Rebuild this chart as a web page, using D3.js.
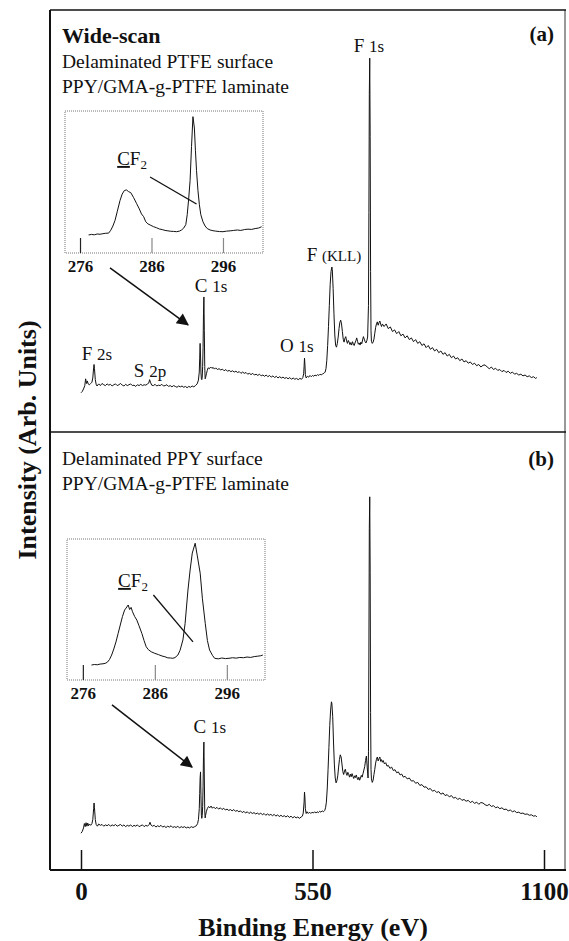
<!DOCTYPE html>
<html>
<head>
<meta charset="utf-8">
<script src="https://cdn.jsdelivr.net/npm/d3@7"></script>
<style>
  html, body { margin: 0; padding: 0; background: #fff; }
  svg { display: block; font-family: "Liberation Serif", "Times New Roman", serif; }
</style>
</head>
<body>
<svg id="chart" width="569" height="941"></svg>
<script>
// ---- Data: XPS wide-scan spectra, [binding energy (eV), intensity (arb.)] ----
const energyTicks = [0, 550, 1100];
const insetTicks = [276, 286, 296];

const wideScanA = [
  [0,9.3],[3,9.6],[6,10.2],[9,11.0],[11,12.6],[13,11.5],[15,12.1],[17,11.4],[20,11.2],[23,11.5],[26,11.8],[28,12.8],
  [30,15.2],[31,16.0],[32,15.0],[34,12.4],[36,11.3],[38,10.9],[42,11.4],[46,11.0],[50,11.5],[54,11.2],[58,11.0],
  [62,11.4],[66,11.1],[70,11.3],[74,10.9],[78,11.2],[82,11.4],[86,11.0],[90,11.2],[94,11.5],[98,11.1],[102,10.9],
  [106,11.3],[110,11.0],[114,11.2],[118,11.4],[122,11.0],[126,11.1],[130,10.8],[134,11.2],[138,11.0],[142,11.3],
  [146,11.0],[150,11.2],[154,11.1],[158,11.4],[161,11.6],[163,12.4],[165,11.8],[168,11.1],[172,11.0],[176,11.3],
  [180,10.9],[184,11.1],[188,11.0],[192,11.3],[196,10.9],[200,11.0],[204,11.2],[208,10.8],[212,11.0],[216,10.7],
  [220,11.0],[224,10.8],[228,10.6],[232,10.9],[236,10.7],[240,10.9],[244,10.6],[248,10.8],[252,10.5],[256,10.8],
  [260,10.6],[264,10.9],[268,10.7],[272,11.0],[276,11.4],[279,12.3],[281,14.2],[282,17.5],[283,21.0],[284,18.0],
  [285,14.0],[286,12.6],[287,12.4],[288,13.0],[289,15.5],[290,20.0],[291,28.0],[292,32.0],[293,24.0],[294,15.5],
  [295,12.6],[296,12.9],[298,13.8],[300,14.6],[302,15.2],[305,15.0],[308,15.4],[311,15.1],[314,15.3],[317,14.9],
  [320,15.2],[324,14.8],[328,15.0],[332,14.7],[336,14.9],[340,14.5],[344,14.8],[348,14.4],[352,14.6],[356,14.3],
  [360,14.5],[364,14.2],[368,14.4],[372,14.1],[376,14.3],[380,13.9],[384,14.2],[388,13.9],[392,14.1],[396,13.7],
  [400,13.9],[404,13.6],[408,13.9],[412,13.5],[416,13.7],[420,13.4],[424,13.7],[428,13.3],[432,13.5],[436,13.2],
  [440,13.5],[444,13.1],[448,13.4],[452,13.0],[456,13.3],[460,12.9],[464,13.2],[468,12.8],[472,13.1],[476,12.8],
  [480,13.0],[484,12.7],[488,12.9],[492,12.6],[496,12.9],[500,12.5],[504,12.8],[508,12.5],[512,12.7],[516,12.4],
  [520,12.7],[524,12.5],[527,12.9],[529,13.8],[530,15.5],[531,17.5],[532,16.0],[533,13.6],[535,12.8],[538,13.2],
  [541,13.0],[544,13.4],[547,13.1],[550,13.4],[553,13.2],[556,13.5],[559,13.3],[562,13.6],[565,13.4],[568,13.7],
  [571,13.5],[574,13.8],[577,13.9],[580,14.2],[582,15.0],[584,17.0],[586,20.5],[588,25.0],[590,30.0],[592,35.0],
  [594,38.0],[596,39.1],[597,38.5],[599,34.0],[601,28.0],[603,23.0],[605,20.5],[607,20.1],[609,21.0],[611,22.5],
  [613,24.5],[615,26.0],[617,26.5],[619,25.6],[621,23.8],[623,22.0],[625,21.3],[627,22.2],[629,22.6],[631,21.6],
  [633,21.0],[635,21.7],[637,21.3],[639,20.7],[641,21.2],[643,20.6],[645,21.4],[647,20.9],[649,20.5],[651,21.1],
  [653,21.6],[655,22.3],[657,21.5],[659,20.8],[661,21.1],[663,20.6],[665,21.3],[667,20.9],[669,21.8],[671,22.6],
  [673,22.0],[675,21.4],[677,21.1],[679,21.6],[681,22.5],[683,30.0],[684,52.0],[685,80.0],[686,88.6],[687,70.0],
  [688,38.0],[689,24.0],[690,21.5],[692,21.0],[694,21.3],[696,22.0],[698,23.4],[700,24.8],[702,25.6],[704,26.1],
  [706,25.3],[708,25.9],[710,26.3],[712,25.5],[714,25.0],[716,25.6],[720,25.0],[725,25.6],[730,24.5],[735,24.9],
  [740,23.8],[745,24.2],[750,23.3],[755,23.8],[760,22.8],[765,23.2],[770,22.3],[775,22.8],[780,21.9],[785,22.3],
  [790,21.4],[795,21.9],[800,21.0],[805,21.4],[810,20.5],[815,20.9],[820,20.0],[825,20.5],[830,19.6],[835,20.0],
  [840,19.2],[845,19.6],[850,18.8],[855,19.2],[860,18.4],[865,18.8],[870,18.0],[875,18.4],[880,17.6],[885,18.0],
  [890,17.3],[895,17.6],[900,16.9],[905,17.3],[910,16.6],[915,16.9],[920,16.3],[925,16.6],[930,16.0],[935,16.3],
  [940,15.7],[945,16.0],[950,15.4],[955,15.8],[960,15.9],[965,15.4],[970,15.0],[975,15.4],[980,14.8],[985,15.1],
  [990,14.6],[995,14.8],[1000,14.3],[1005,14.6],[1010,14.1],[1015,14.4],[1020,13.9],[1025,14.2],[1030,13.7],
  [1035,13.9],[1040,13.5],[1045,13.7],[1050,13.3],[1055,13.5],[1060,13.1],[1065,13.3],[1070,12.9],[1075,13.1],
  [1080,12.7],[1083,12.9]
];

const wideScanB = [
  [0,8.4],[3,8.8],[6,9.6],[8,10.6],[10,9.9],[12,10.8],[14,10.0],[16,10.7],[18,10.1],[20,10.5],[23,10.2],[26,10.6],
  [28,11.5],[30,14.0],[31,15.3],[32,14.2],[34,11.5],[36,10.4],[39,10.0],[42,10.5],[46,10.2],[50,10.4],[54,10.0],
  [58,10.3],[62,10.1],[66,10.4],[70,10.0],[74,10.3],[78,10.1],[82,10.4],[86,10.0],[90,10.2],[94,10.4],[98,10.0],
  [102,10.3],[106,9.9],[110,10.2],[114,10.0],[118,10.3],[122,9.9],[126,10.2],[130,10.0],[134,10.3],[138,9.9],
  [142,10.1],[146,10.3],[150,9.9],[154,10.2],[158,10.0],[162,10.4],[164,10.9],[166,10.3],[170,10.0],[174,10.2],
  [178,9.8],[182,10.1],[186,9.9],[190,10.2],[194,9.8],[198,10.0],[202,9.7],[206,10.0],[210,9.8],[214,10.1],
  [218,9.7],[222,9.9],[226,9.7],[230,10.0],[234,9.6],[238,9.9],[242,9.7],[246,9.9],[250,9.6],[254,9.8],[258,9.6],
  [262,9.9],[266,9.7],[270,9.9],[274,10.1],[277,10.6],[279,11.5],[281,14.0],[282,17.5],[283,21.0],[284,22.4],
  [285,17.0],[286,12.5],[287,11.8],[288,12.4],[289,14.5],[290,19.0],[291,26.0],[292,29.2],[293,21.0],[294,13.5],
  [295,11.9],[296,12.5],[298,13.4],[300,14.0],[303,14.5],[306,14.2],[309,14.6],[312,14.1],[315,14.4],[319,14.0],
  [323,14.3],[327,13.9],[331,14.2],[335,13.8],[339,14.1],[343,13.7],[347,13.9],[351,13.6],[355,13.8],[359,13.5],
  [363,13.8],[367,13.4],[371,13.6],[375,13.3],[379,13.5],[383,13.1],[387,13.4],[391,13.0],[395,13.3],[399,12.9],
  [403,13.2],[407,12.9],[411,13.1],[415,12.8],[419,13.0],[423,12.7],[427,13.0],[431,12.6],[435,12.9],[439,12.5],
  [443,12.8],[447,12.5],[451,12.7],[455,12.4],[459,12.7],[463,12.3],[467,12.6],[471,12.2],[475,12.5],[479,12.2],
  [483,12.4],[487,12.1],[491,12.4],[495,12.0],[499,12.3],[503,11.9],[507,12.2],[511,11.9],[515,12.1],[519,11.8],
  [523,12.1],[526,12.3],[528,13.0],[530,15.5],[531,17.8],[532,16.5],[533,14.0],[535,12.9],[537,13.3],[540,12.9],
  [543,13.2],[546,12.9],[549,13.2],[552,13.0],[555,13.3],[558,13.0],[561,13.3],[564,13.1],[567,13.4],[570,13.2],
  [573,13.5],[576,13.3],[579,13.6],[581,14.2],[583,15.5],[585,18.5],[587,23.0],[589,28.0],[591,33.0],[593,36.5],
  [595,38.4],[596,38.0],[598,35.0],[600,29.0],[602,24.0],[604,21.0],[606,19.9],[608,20.4],[610,21.5],[612,23.5],
  [614,25.2],[616,26.3],[618,25.8],[620,24.2],[622,22.5],[624,21.8],[626,22.6],[628,23.0],[630,22.1],[632,21.6],
  [634,22.3],[636,21.8],[638,21.2],[640,21.9],[642,21.3],[644,22.0],[646,21.4],[648,20.9],[650,21.5],[652,21.1],
  [654,21.7],[656,21.0],[658,20.6],[660,21.2],[662,20.5],[664,21.0],[666,21.6],[668,21.2],[670,22.0],[672,22.8],
  [674,23.6],[676,25.0],[678,26.0],[680,23.5],[682,21.0],[683,27.0],[684,50.0],[685,78.0],[686,85.2],[687,68.0],
  [688,36.0],[689,23.0],[690,20.8],[692,20.0],[694,20.5],[696,21.8],[698,23.0],[700,24.4],[702,25.3],[704,25.8],
  [706,24.9],[708,25.4],[710,25.8],[712,24.8],[714,25.2],[716,24.6],[718,25.0],[721,24.2],[724,24.5],[727,23.7],
  [730,23.9],[734,23.2],[738,23.5],[742,22.7],[746,22.9],[750,22.2],[754,22.4],[758,21.7],[762,21.9],[766,21.2],
  [770,21.4],[775,20.8],[780,21.0],[785,20.3],[790,20.4],[795,19.8],[800,20.0],[805,19.3],[810,19.5],[815,18.9],
  [820,19.0],[825,18.4],[830,18.6],[835,18.0],[840,18.2],[845,17.7],[850,17.9],[855,17.3],[860,17.6],[865,17.0],
  [870,17.2],[875,16.7],[880,17.0],[885,16.4],[890,16.6],[895,16.1],[900,16.4],[905,15.9],[910,16.1],[915,15.7],
  [920,15.9],[925,15.4],[930,15.7],[935,15.2],[940,15.5],[945,15.0],[950,15.4],[955,15.3],[960,14.9],[965,14.7],
  [970,15.0],[975,14.5],[980,14.7],[985,14.2],[990,14.4],[995,14.0],[1000,14.2],[1005,13.8],[1010,13.9],
  [1015,13.5],[1020,13.7],[1025,13.3],[1030,13.5],[1035,13.1],[1040,13.2],[1045,12.9],[1050,13.0],[1055,12.7],
  [1060,12.8],[1065,12.5],[1070,12.6],[1075,12.3],[1080,12.4],[1083,12.1]
];

// C 1s core-level spectra (insets)
const coreC1sA = [
  [277.2,12.7],[277.6,13.1],[278.0,12.8],[278.4,13.4],[278.8,13.2],[279.2,13.6],[279.6,13.9],[280.0,14.0],
  [280.3,16],[280.6,19],[280.9,23],[281.2,29],[281.6,37],[281.9,41.5],[282.2,44],[282.5,44.4],[282.8,43.2],
  [283.1,42.5],[283.5,39],[283.9,35],[284.3,31],[284.6,27.5],[284.9,25.6],[285.2,22],[285.5,20.5],[285.9,19.5],
  [286.3,18.5],[286.7,17.8],[287.1,16.9],[287.5,16.5],[287.9,15.9],[288.3,15.6],[288.7,15.3],[289.1,15.2],
  [289.5,15.0],[289.9,15.4],[290.2,16.2],[290.5,17.5],[290.8,20],[291.0,27],[291.2,38],[291.4,51],[291.6,75],
  [291.8,96],[292.0,88],[292.15,72],[292.3,58],[292.5,44],[292.7,34],[292.9,27],[293.2,22],[293.5,19],[293.8,17.2],
  [294.2,16.2],[294.6,15.7],[295.0,15.4],[295.5,15.1],[296.0,15.0],[296.5,15.4],[297.0,15.6],[297.5,15.9],
  [298.0,16.2],[298.5,15.9],[299.0,16.5],[299.5,16.8],[300.0,16.6],[300.5,17.2],[301.0,17.6],[301.4,18.5]
];
const coreC1sB = [
  [277.2,10.6],[277.6,11.0],[278.0,10.8],[278.4,11.3],[278.8,11.5],[279.1,11.8],[279.4,12.6],[279.7,14.5],
  [280.0,17.7],[280.3,22],[280.6,27],[280.9,33],[281.2,39],[281.5,45],[281.8,49.6],[282.0,51],[282.3,53.2],
  [282.5,50],[282.7,51.5],[282.9,48.4],[283.2,45],[283.5,42.5],[283.8,38.5],[284.2,33],[284.5,28],[284.8,23.6],
  [285.1,21.5],[285.5,20],[286.0,18.9],[286.5,18.0],[287.0,17.0],[287.4,16.5],[287.8,15.7],[288.2,15.6],
  [288.5,15.4],[288.8,15.9],[289.2,17.7],[289.5,21],[289.9,28.4],[290.2,40],[290.6,63.8],[290.9,78],[291.2,90],
  [291.6,97],[291.9,88],[292.3,75.7],[292.6,58],[293.0,40.2],[293.3,28],[293.6,21.3],[294.0,17.5],[294.3,15.4],
  [294.8,15.0],[295.3,15.6],[295.8,15.2],[296.3,15.4],[296.8,15.8],[297.3,15.5],[297.8,16.0],[298.3,15.8],
  [298.8,16.3],[299.3,16.0],[299.8,16.6],[300.3,16.9],[300.7,17.2],[301.0,17.7]
];

// Peak assignments: [element, orbital, label energy, label intensity]
const peaksA = [
  ["F", "2s", 38, 17.1],
  ["S", "2p", 164, 13.0],
  ["C", "1s", 309, 33.2],
  ["O", "1s", 513, 19.0],
  ["F", "(KLL)", 601, 40.5],
  ["F", "1s", 684, 90.0]
];
const peaksB = [
  ["C", "1s", 306, 31.3]
];

// ---- Layout ----
const svg = d3.select("#chart");
const frame = { left: 50, right: 565, top: 10, mid: 432, bottom: 870 };

const x = d3.scaleLinear().domain([0, 1100]).range([81, 544]);
const yA = d3.scaleLinear().domain([0, 100]).range([frame.mid, frame.top]);
const yB = d3.scaleLinear().domain([0, 100]).range([frame.bottom, frame.mid]);

const insetA = {
  x: d3.scaleLinear().domain([273.9, 301.6]).range([65, 263]),
  y: d3.scaleLinear().domain([0, 100]).range([253, 111])
};
const insetB = {
  x: d3.scaleLinear().domain([273.8, 301.3]).range([67, 265]),
  y: d3.scaleLinear().domain([0, 100]).range([680, 539])
};

const ink = "#111";

// arrowhead
svg.append("defs").append("marker")
  .attr("id", "arrowhead")
  .attr("viewBox", "0 0 10 10")
  .attr("refX", 9).attr("refY", 5)
  .attr("markerUnits", "userSpaceOnUse")
  .attr("markerWidth", 15).attr("markerHeight", 12)
  .attr("orient", "auto")
  .append("path").attr("d", "M0,0 L10,5 L0,10 Z").attr("fill", ink);

// ---- Frame ----
const frameG = svg.append("g").attr("stroke", ink).attr("fill", "none");
frameG.append("line").attr("x1", frame.left).attr("x2", frame.left)
  .attr("y1", frame.top).attr("y2", frame.bottom).attr("stroke-width", 2);
frameG.append("line").attr("x1", frame.right).attr("x2", frame.right)
  .attr("y1", frame.top).attr("y2", frame.bottom).attr("stroke-width", 1.2).attr("stroke", "#555");
frameG.append("line").attr("x1", frame.left).attr("x2", frame.right + 1)
  .attr("y1", frame.top).attr("y2", frame.top).attr("stroke-width", 1.5);
frameG.append("line").attr("x1", frame.left).attr("x2", frame.right + 1)
  .attr("y1", frame.mid).attr("y2", frame.mid).attr("stroke-width", 1.5);
frameG.append("line").attr("x1", frame.left).attr("x2", frame.right + 1)
  .attr("y1", frame.bottom).attr("y2", frame.bottom).attr("stroke-width", 2);

// ---- Bottom axis ----
const xAxis = d3.axisBottom(x).tickValues(energyTicks).tickFormat(d3.format("d"))
  .tickSize(-20).tickPadding(12);
const axG = svg.append("g").attr("transform", `translate(0,${frame.bottom})`).call(xAxis);
axG.select(".domain").remove();
axG.selectAll(".tick line").attr("stroke", ink).attr("stroke-width", 1.5);
axG.selectAll(".tick text")
  .attr("fill", ink)
  .attr("font-family", "Liberation Serif, serif")
  .attr("font-weight", "bold").attr("font-size", 25);

svg.append("text")
  .attr("x", 313).attr("y", 936)
  .attr("text-anchor", "middle")
  .attr("font-weight", "bold").attr("font-size", 26).attr("fill", ink)
  .text("Binding Energy (eV)");

svg.append("text")
  .attr("transform", `translate(36,${(frame.top + frame.bottom) / 2}) rotate(-90)`)
  .attr("text-anchor", "middle")
  .attr("font-weight", "bold").attr("font-size", 26).attr("fill", ink)
  .text("Intensity (Arb. Units)");

// ---- Spectra ----
function drawSpectrum(data, xs, ys, width) {
  svg.append("path")
    .datum(data)
    .attr("fill", "none")
    .attr("stroke", ink)
    .attr("stroke-width", width)
    .attr("stroke-linejoin", "round")
    .attr("d", d3.line().x(d => xs(d[0])).y(d => ys(d[1])));
}
drawSpectrum(wideScanA, x, yA, 1);
drawSpectrum(wideScanB, x, yB, 1);

// ---- Peak labels ----
function drawPeakLabels(list, ys) {
  list.forEach(([el, orb, e, v]) => {
    const t = svg.append("text")
      .attr("x", x(e)).attr("y", ys(v))
      .attr("text-anchor", "middle")
      .attr("fill", ink).attr("font-size", 19);
    t.append("tspan").text(el + " ");
    t.append("tspan").attr("font-size", orb.startsWith("(") ? 15 : 17).text(orb);
  });
}
drawPeakLabels(peaksA, yA);
drawPeakLabels(peaksB, yB);

// ---- Panel titles ----
const titleA = svg.append("g").attr("fill", ink);
titleA.append("text").attr("x", 62).attr("y", 43)
  .attr("font-weight", "bold").attr("font-size", 22).text("Wide-scan");
titleA.append("text").attr("x", 62).attr("y", 68).attr("font-size", 19.5).text("Delaminated PTFE surface");
titleA.append("text").attr("x", 62).attr("y", 93).attr("font-size", 19.5).text("PPY/GMA-g-PTFE laminate");
titleA.append("text").attr("x", 554).attr("y", 41).attr("text-anchor", "end")
  .attr("font-weight", "bold").attr("font-size", 21).text("(a)");

const titleB = svg.append("g").attr("fill", ink);
titleB.append("text").attr("x", 62).attr("y", 465).attr("font-size", 19.5).text("Delaminated PPY surface");
titleB.append("text").attr("x", 62).attr("y", 490).attr("font-size", 19.5).text("PPY/GMA-g-PTFE laminate");
titleB.append("text").attr("x", 554).attr("y", 466).attr("text-anchor", "end")
  .attr("font-weight", "bold").attr("font-size", 21).text("(b)");

// ---- Insets ----
function drawInset(inset, data, cfLabel, cfLine) {
  const [x0, x1] = inset.x.range();
  const [y0, y1] = inset.y.range();
  svg.append("rect")
    .attr("x", x0).attr("y", y1).attr("width", x1 - x0).attr("height", y0 - y1)
    .attr("fill", "none").attr("stroke", "#777").attr("stroke-width", 1)
    .attr("stroke-dasharray", "1,1");
  const ax = d3.axisBottom(inset.x).tickValues(insetTicks).tickSize(-15).tickPadding(7);
  const g = svg.append("g").attr("transform", `translate(0,${y0})`).call(ax);
  g.select(".domain").remove();
  g.selectAll(".tick line").attr("stroke", (d, i) => i === 0 ? "#222" : "#888").attr("stroke-width", 1.2);
  g.selectAll(".tick text").attr("fill", ink)
    .attr("font-family", "Liberation Serif, serif")
    .attr("font-weight", "bold").attr("font-size", 17);
  svg.append("path").datum(data)
    .attr("fill", "none").attr("stroke", ink).attr("stroke-width", 1)
    .attr("stroke-linejoin", "round")
    .attr("d", d3.line().x(d => inset.x(d[0])).y(d => inset.y(d[1])));
  const t = svg.append("text")
    .attr("x", inset.x(cfLabel[0])).attr("y", inset.y(cfLabel[1]))
    .attr("fill", ink).attr("font-size", 19);
  t.append("tspan").attr("text-decoration", "underline").text("C");
  t.append("tspan").text("F");
  t.append("tspan").attr("font-size", 13).attr("dy", 4).text("2");
  svg.append("line")
    .attr("x1", inset.x(cfLine[0][0])).attr("y1", inset.y(cfLine[0][1]))
    .attr("x2", inset.x(cfLine[1][0])).attr("y2", inset.y(cfLine[1][1]))
    .attr("stroke", ink).attr("stroke-width", 1.3);
}
drawInset(insetA, coreC1sA, [281.2, 62], [[285.8, 53.5], [292.3, 34.5]]);
drawInset(insetB, coreC1sB, [280.9, 66], [[285.8, 60.3], [291.3, 27]]);

// ---- Arrows from inset to the C 1s region ----
function drawArrow(from, to, ys) {
  svg.append("line")
    .attr("x1", x(from[0])).attr("y1", ys(from[1]))
    .attr("x2", x(to[0])).attr("y2", ys(to[1]))
    .attr("stroke", ink).attr("stroke-width", 1.5)
    .attr("marker-end", "url(#arrowhead)");
}
drawArrow([68.9, 38.9], [254.2, 25.4], yA);
drawArrow([73.6, 37.7], [263.7, 23.5], yB);
</script>
</body>
</html>
